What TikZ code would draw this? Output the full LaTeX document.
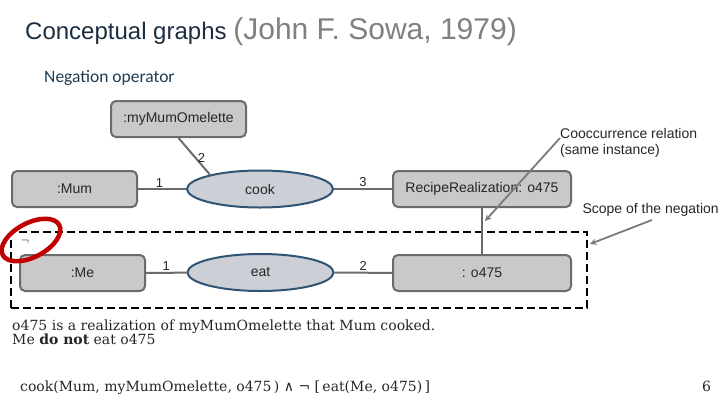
\documentclass[tikz,border=0pt]{standalone}
\usepackage{fontspec}
\setmainfont{Liberation Sans}
\newfontfamily\notefont{Carlito}
\newfontfamily\prosefont{DejaVu Serif}
\usetikzlibrary{shapes.geometric}

\definecolor{conceptfill}{HTML}{C9C9C9}
\definecolor{conceptedge}{HTML}{6B6B6B}
\definecolor{relfill}{HTML}{CCD0D6}
\definecolor{reledge}{HTML}{2F5474}
\definecolor{headblue}{HTML}{1B2E40}
\definecolor{subblue}{HTML}{1F3B50}
\definecolor{ringred}{HTML}{C00000}
\definecolor{pointergray}{HTML}{7A7A7A}

\begin{document}
\begin{tikzpicture}[
  x=1pt, y=-1pt,
  concept/.style={draw=conceptedge, fill=conceptfill, line width=2pt,
    rounded corners=5pt, minimum height=36pt, inner sep=0pt,
    font=\fontsize{14}{16}\selectfont, text=black!85},
  relation/.style={ellipse, draw=reledge, fill=relfill, line width=2pt,
    minimum width=146pt, minimum height=37pt, inner sep=0pt,
    font=\fontsize{14}{16}\selectfont, text=black!85},
  arc/.style={conceptedge, line width=2pt},
  arclabel/.style={font=\fontsize{13}{15}\selectfont, text=black!85, inner sep=1pt},
  negscope/.style={draw=black, line width=2.5pt, dash pattern=on 8pt off 4pt,
    minimum width=576pt, minimum height=76pt, inner sep=0pt},
  pointer/.style={pointergray, line width=1.8pt, ->, >=stealth},
  remark/.style={font=\fontsize{14}{16}\selectfont, text=black!85, inner sep=0pt},
  prose/.style={font=\prosefont\fontsize{14}{16}\selectfont, text=black!85,
    inner sep=0pt, anchor=base west}
]
  \useasboundingbox (0,0) rectangle (720,405);

  % Headings
  \node[anchor=base west, inner sep=0pt, text=headblue] (title) at (25,39)
    {\fontsize{24}{27}\selectfont Conceptual graphs
     {\color{gray}\fontsize{30}{33}\selectfont (John F. Sowa, 1979)}};
  \node[anchor=base west, inner sep=0pt, text=subblue,
    font=\notefont\fontsize{17.5}{20}\selectfont] (subtitle) at (44,82) {Negation operator};

  % Scope of the negation (drawn first, boxes sit on top)
  \node[negscope] (scope) at (299,270) {};

  % Concepts and relations
  \node[concept, minimum width=135pt] (omelette) at (178.5,119) {:myMumOmelette};
  \node[concept, minimum width=125pt] (mum) at (74.5,189) {:Mum};
  \node[concept, minimum width=125pt] (me) at (82.5,273) {:Me};
  \node[relation] (cook) at (260,189) {cook};
  \node[relation] (eat) at (260.5,272.5) {eat};
  \node[concept, minimum width=178pt] (recipe) at (482,189) {RecipeRealization: o475};
  \node[concept, minimum width=178pt] (instance) at (482,273) {: o475};

  % Arcs with their argument numbers
  \draw[arc] (omelette.south) -- node[arclabel, pos=.55, right] {2} (cook.164);
  \draw[arc] (mum) -- node[arclabel, pos=.45, above] {1} (cook);
  \draw[arc] (cook) -- node[arclabel, pos=.5, above] {3} (recipe);
  \draw[arc] (me) -- node[arclabel, pos=.5, above] {1} (eat);
  \draw[arc] (eat) -- node[arclabel, pos=.5, above] {2} (instance);
  \draw[arc] (recipe) -- (instance);

  % Negation sign and its red ring
  \node[font=\fontsize{12}{14}\selectfont, inner sep=0pt] (negsign) at (25,242) {$\neg$};
  \draw[ringred, line width=4.5pt, rotate around={28:(31,240)}]
    (31,240) ellipse [x radius=32pt, y radius=17pt];

  % Call-outs
  \node[remark, anchor=north west, align=left] (cooc) at (560,128)
    {Cooccurrence relation\\(same instance)};
  \coordinate (cooc tail) at (560,138);
  \coordinate (cooc head) at (485,221);
  \draw[pointer] (cooc tail) -- (cooc head);

  \node[remark, anchor=base east] (scopenote) at (719,213) {Scope of the negation};
  \coordinate (scope tail) at (652,220);
  \coordinate (scope head) at (590,244);
  \draw[pointer] (scope tail) -- (scope head);

  % Reading of the graph
  \node[prose] (reading) at (12,330.5) {o475 is a realization of myMumOmelette that Mum cooked.};
  \node[prose] (denial) at (12,344) {Me \textbf{do not} eat o475};
  \node[prose] (formula) at (20,391.5)
    {cook(Mum, myMumOmelette, o475\,) ∧ ¬ [\,eat(Me, o475)\,]};
  \node[prose] (pagenum) at (702,391.5) {6};

\end{tikzpicture}
\end{document}
